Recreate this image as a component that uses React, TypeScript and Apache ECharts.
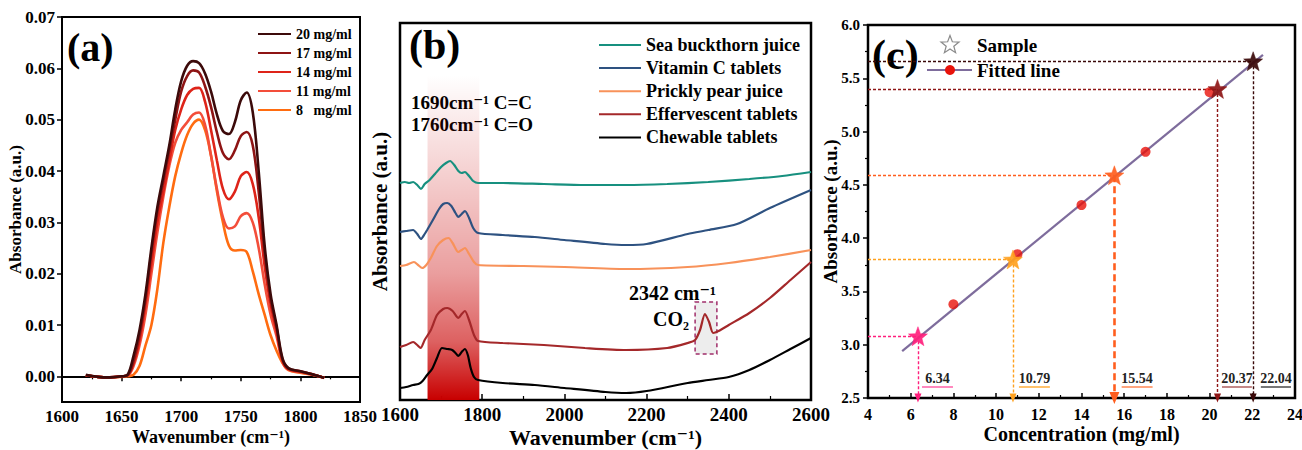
import React, { useEffect, useRef } from "react";
import * as echarts from "echarts";

const FONT = "'Liberation Serif', 'Times New Roman', 'DejaVu Serif', serif";

// ---------- Panel (a): spectra at several concentrations ----------
const aWavenumbers = [1620, 1630, 1640, 1650, 1655, 1660, 1665, 1670, 1675, 1680, 1685, 1690, 1695, 1700, 1705, 1710, 1715, 1720, 1725, 1730, 1735, 1740, 1745, 1750, 1755, 1760, 1765, 1770, 1775, 1780, 1785, 1790, 1800, 1810, 1820];
const aAbs20 = [0.0003, -0.0001, -0.0002, 0.0, 0.0003, 0.004, 0.009, 0.016, 0.025, 0.033, 0.039, 0.045, 0.052, 0.0575, 0.0605, 0.0614, 0.061, 0.059, 0.0555, 0.051, 0.0478, 0.0472, 0.0495, 0.0538, 0.0553, 0.0515, 0.04, 0.0255, 0.016, 0.01, 0.0035, 0.0016, 0.001, 0.0004, -0.0003];
const aAbs17 = [0.0002, -0.0001, -0.0002, 0.0, 0.0002, 0.003, 0.008, 0.015, 0.024, 0.032, 0.038, 0.044, 0.05, 0.0555, 0.0585, 0.0596, 0.0592, 0.0565, 0.0525, 0.0475, 0.0435, 0.0423, 0.044, 0.0468, 0.0476, 0.045, 0.036, 0.024, 0.015, 0.0095, 0.0033, 0.0015, 0.001, 0.0004, -0.0003];
const aAbs14 = [0.0002, -0.0001, -0.0002, 0.0, 0.0002, 0.0025, 0.007, 0.014, 0.022, 0.03, 0.036, 0.042, 0.048, 0.052, 0.0548, 0.056, 0.0562, 0.0535, 0.048, 0.042, 0.0365, 0.0345, 0.036, 0.039, 0.0398, 0.0375, 0.031, 0.0215, 0.014, 0.0088, 0.003, 0.0014, 0.0009, 0.0004, -0.0003];
const aAbs11 = [0.0002, -0.0001, -0.0002, 0.0, 0.0001, 0.002, 0.006, 0.012, 0.02, 0.028, 0.035, 0.041, 0.0455, 0.048, 0.0495, 0.051, 0.0514, 0.049, 0.043, 0.0365, 0.031, 0.0288, 0.0292, 0.0312, 0.0318, 0.03, 0.025, 0.018, 0.012, 0.0078, 0.0028, 0.0013, 0.0008, 0.0003, -0.0003];
const aAbs8 = [0.0002, -0.0001, -0.0002, -0.0001, 0.0, 0.0003, 0.002, 0.006, 0.01, 0.017, 0.026, 0.033, 0.039, 0.0435, 0.047, 0.0492, 0.05, 0.048, 0.043, 0.036, 0.03, 0.0255, 0.0245, 0.0246, 0.0242, 0.0205, 0.016, 0.012, 0.008, 0.005, 0.0026, 0.0012, 0.0007, 0.0003, -0.0003];
const aNames = ["20 mg/ml", "17 mg/ml", "14 mg/ml", "11 mg/ml", "8\u00a0\u00a0\u00a0mg/ml"];
const aSeries = [aAbs20, aAbs17, aAbs14, aAbs11, aAbs8];
const aColors = ["#3C0A0A", "#8E1414", "#DE2419", "#F34E3A", "#FF6C10"];
const aYTicks = [0, 0.01, 0.02, 0.03, 0.04, 0.05, 0.06, 0.07];

// ---------- Panel (b): sample spectra (offset, arbitrary units) ----------
const bSeaX = [1600, 1612, 1622, 1632, 1642, 1651, 1660, 1672, 1685, 1700, 1712, 1722, 1732, 1742, 1750, 1758, 1768, 1778, 1790, 1850, 1950, 2050, 2150, 2250, 2350, 2450, 2530, 2600];
const bSeaY = [217, 218, 217, 218, 215, 211, 216, 220, 226, 233, 237, 239, 235, 229, 227, 228, 224, 219, 217, 217, 216, 215, 215, 216, 218, 221, 224, 228];
const bVitX = [1600, 1615, 1632, 1642, 1651, 1660, 1666, 1680, 1695, 1705, 1715, 1725, 1735, 1742, 1750, 1758, 1768, 1778, 1790, 1850, 1928, 2000, 2100, 2150, 2200, 2300, 2350, 2420, 2500, 2600];
const bVitY = [168, 169, 170, 166, 161, 166, 170, 180, 191, 196, 197, 194, 187, 183, 186, 189, 182, 172, 167, 165, 163, 160, 156, 155, 156, 166, 170, 176, 192, 210];
const bPearX = [1600, 1615, 1634, 1644, 1654, 1664, 1675, 1690, 1705, 1718, 1728, 1742, 1750, 1758, 1768, 1780, 1790, 1900, 2000, 2150, 2300, 2400, 2500, 2600];
const bPearY = [134, 135, 138, 135, 132, 135, 142, 154, 160, 162, 157, 148, 150, 152, 146, 138, 135, 134, 133, 131, 133, 137, 143, 150];
const bEffX = [1600, 1615, 1632, 1642, 1650, 1660, 1675, 1690, 1705, 1715, 1728, 1742, 1750, 1758, 1768, 1780, 1790, 1850, 1950, 2050, 2150, 2250, 2300, 2318, 2330, 2342, 2352, 2362, 2375, 2400, 2450, 2500, 2550, 2600];
const bEffY = [53, 55, 58, 55, 52, 60, 70, 85, 91, 92, 89, 82, 86, 89, 80, 65, 59, 57, 55, 52, 50, 52, 57, 60, 70, 86, 78, 67, 69, 75, 87, 102, 120, 138];
const bChewX = [1600, 1615, 1632, 1645, 1655, 1666, 1678, 1690, 1702, 1715, 1727, 1735, 1742, 1750, 1758, 1765, 1772, 1780, 1790, 1850, 1928, 2000, 2100, 2150, 2200, 2300, 2350, 2400, 2450, 2500, 2550, 2600];
const bChewY = [12, 13, 15, 16, 19, 25, 31, 42, 52, 51, 50, 47, 44, 48, 51, 45, 32, 23, 20, 17, 15, 12, 8, 7, 9, 17, 20, 23, 30, 40, 51, 62];
const bNames = ["Sea buckthorn juice", "Vitamin C tablets", "Prickly pear juice", "Effervescent tablets", "Chewable tablets"];
const bXs = [bSeaX, bVitX, bPearX, bEffX, bChewX];
const bYs = [bSeaY, bVitY, bPearY, bEffY, bChewY];
const bColors = ["#17907F", "#2E5281", "#F8925A", "#A4282A", "#000000"];
const bBand = [1667, 1793, 325, 0]; // x1, x2, yTop, yBottom
const bCO2Box = [2318, 2371, 98, 46];

// ---------- Panel (c): calibration ----------
const cStdConc = [8, 11, 14, 17, 20];
const cStdAbs = [3.38, 3.85, 4.31, 4.81, 5.37];
const cFitConc = [5.6, 22.5];
const cFitAbs = [2.94, 5.72];
const cSampleConc = [6.34, 10.79, 15.54, 20.37, 22.04];
const cSampleAbs = [3.08, 3.8, 4.59, 5.4, 5.66];
const cSampleLabels = ["6.34", "10.79", "15.54", "20.37", "22.04"];
const cLabelStart = [6.53, 11.07, 15.88, 20.58, 22.4];
const cLabelEnd = [7.98, 12.52, 17.33, 21.98, 23.81];
const cLabelY = 2.603;
const cSampleColors = ["#FF1F7C", "#FFA11E", "#FF5E1E", "#8E1616", "#3A0808"];
const cUnderlineColors = ["#FF6AAE", "#FFB347", "#FF8E5E", "#B46A6A", "#555555"];

const STAR = "path://M12,1 L14.9,8.6 L23,8.9 L16.6,13.9 L18.9,21.8 L12,17.2 L5.1,21.8 L7.4,13.9 L1,8.9 L9.1,8.6 Z";

function starPoints(cx: number, cy: number, ro: number, ri: number) {
  const pts: number[][] = [];
  for (let i = 0; i < 10; i++) {
    const r = i % 2 === 0 ? ro : ri;
    const a = -Math.PI / 2 + (i * Math.PI) / 5;
    pts.push([cx + r * Math.cos(a), cy + r * Math.sin(a)]);
  }
  return pts;
}

const bold = { fontFamily: FONT, fontWeight: "bold" as const, color: "#000" };
const plain = (v: number) => String(v);

export default function App() {
  const ref = useRef<HTMLDivElement>(null);
  useEffect(() => {
    if (!ref.current) return;
    const chart = echarts.init(ref.current, undefined, { renderer: "svg" });

    const zip = (xs: number[], ys: number[]) => xs.map((x, i) => [x, ys[i]]);

    const series: any[] = [];
    aSeries.forEach((ys, i) => {
      series.push({
        type: "line", name: aNames[i], xAxisIndex: 0, yAxisIndex: 0,
        data: zip(aWavenumbers, ys), smooth: 0.35, symbol: "none",
        lineStyle: { color: aColors[i], width: 2.6 }, itemStyle: { color: aColors[i] }, z: 3 + (5 - i),
      });
    });

    // band + CO2 box
    series.push({
      type: "line", xAxisIndex: 1, yAxisIndex: 1, data: [], z: 1, silent: true,
      markArea: {
        silent: true,
        data: [
          [
            {
              coord: [bBand[0], bBand[2]],
              itemStyle: {
                color: new echarts.graphic.LinearGradient(0, 0, 0, 1, [
                  { offset: 0, color: "rgba(200,0,0,0.0)" },
                  { offset: 0.33, color: "rgba(200,0,0,0.2)" },
                  { offset: 0.61, color: "rgba(200,0,0,0.38)" },
                  { offset: 0.82, color: "rgba(200,0,0,0.62)" },
                  { offset: 1, color: "rgba(200,0,0,1)" },
                ]),
              },
            },
            { coord: [bBand[1], bBand[3]] },
          ],
          [
            {
              coord: [bCO2Box[0], bCO2Box[2]],
              itemStyle: { color: "rgba(175,175,175,0.22)", borderColor: "#A02E6A", borderWidth: 1.5, borderType: [4, 3] },
            },
            { coord: [bCO2Box[1], bCO2Box[3]] },
          ],
        ],
      },
    });
    bNames.forEach((n, i) => {
      series.push({
        type: "line", name: n, xAxisIndex: 1, yAxisIndex: 1,
        data: zip(bXs[i], bYs[i]), smooth: 0.25, symbol: "none",
        lineStyle: { color: bColors[i], width: 2.2 }, itemStyle: { color: bColors[i] }, z: 3,
      });
    });

    // Panel c
    series.push({
      type: "line", xAxisIndex: 2, yAxisIndex: 2, data: zip(cFitConc, cFitAbs), symbol: "none",
      lineStyle: { color: "#7E6C9C", width: 2.2 }, z: 3,
    });
    series.push({
      type: "scatter", xAxisIndex: 2, yAxisIndex: 2, data: zip(cStdConc, cStdAbs), symbol: "circle", symbolSize: 10,
      itemStyle: { color: "#E8120A" }, z: 4,
    });

    const guides: any[] = [];
    cSampleConc.forEach((x, i) => {
      const y = cSampleAbs[i];
      const c = cSampleColors[i];
      const thick = i === 2;
      guides.push([
        { coord: [4, y], symbol: "none", lineStyle: { color: c, width: 1.4, type: [3, 2], opacity: 1 } },
        { coord: [x, y], symbol: "none" },
      ]);
      guides.push([
        { coord: [x, y], symbol: "none", lineStyle: { color: c, width: thick ? 2.6 : 1.4, type: thick ? [7, 4] : [3, 2], opacity: 1 } },
        { coord: [x, 2.5], symbol: "triangle", symbolSize: thick ? [10, 12] : [7, 9], symbolRotate: 180 },
      ]);
    });
    series.push({
      type: "scatter", xAxisIndex: 2, yAxisIndex: 2,
      data: cSampleConc.map((x, i) => ({ value: [x, cSampleAbs[i]], itemStyle: { color: cSampleColors[i], borderColor: cSampleColors[i], borderWidth: 0.5, opacity: 0.92 } })),
      symbol: STAR, symbolSize: 19, z: 6,
      markLine: { silent: true, symbol: ["none", "none"], label: { show: false }, data: guides, z: 2 },
    });

    const underlines = cSampleLabels.map((t, i) => [
      {
        coord: [cLabelStart[i], cLabelY],
        lineStyle: { color: cUnderlineColors[i], width: 1.6, type: "solid", opacity: 1 },
        label: { show: true, position: "insideMiddleTop", distance: 2, formatter: t, fontSize: 14, ...bold, color: "#222" },
      },
      { coord: [cLabelEnd[i], cLabelY] },
    ]);
    series.push({
      type: "line", xAxisIndex: 2, yAxisIndex: 2, data: [], z: 5,
      markLine: { silent: true, symbol: ["none", "none"], data: underlines },
    });

    const axisLineStyle = { lineStyle: { color: "#000", width: 2 } };

    const starPts = starPoints(950, 45, 9.5, 4);
    const txt = (text: string, x: number, y: number, fontSize: number, align = "left") => ({
      type: "text", x, y,
      style: { text, fontSize, fontWeight: "bold", fontFamily: FONT, fill: "#000", align, verticalAlign: "middle" },
    });

    chart.setOption({
      animation: false,
      backgroundColor: "#fff",
      grid: [
        { left: 62, top: 17, width: 298, height: 385, show: true, borderColor: "#000", borderWidth: 2, backgroundColor: "transparent", outerBoundsMode: "none", containLabel: false },
        { left: 400, top: 23, width: 411, height: 377, show: true, borderColor: "#000", borderWidth: 2.5, backgroundColor: "transparent", outerBoundsMode: "none", containLabel: false },
        { left: 868, top: 25, width: 427, height: 373, show: true, borderColor: "#000", borderWidth: 2.5, backgroundColor: "transparent", outerBoundsMode: "none", containLabel: false },
      ],
      xAxis: [
        {
          gridIndex: 0, type: "value", min: 1600, max: 1850, interval: 50,
          axisLine: axisLineStyle, splitLine: { show: false },
          axisTick: { inside: false, length: 5, lineStyle: { width: 1.5, color: "#000" } },
          minorTick: { show: true, splitNumber: 2, length: 3, lineStyle: { color: "#000", width: 1.2 } },
          axisLabel: { fontSize: 17, margin: 6, ...bold, showMaxLabel: true, showMinLabel: true, formatter: plain },
          name: "Wavenumber (cm\u207B\u00B9)", nameLocation: "middle", nameGap: 26, nameMoveOverlap: false,
          nameTextStyle: { fontSize: 18, ...bold },
        },
        {
          gridIndex: 1, type: "value", min: 1600, max: 2600, interval: 200,
          axisLine: axisLineStyle, splitLine: { show: false },
          axisTick: { inside: true, length: 6, lineStyle: { width: 1.5, color: "#000" } },
          minorTick: { show: true, splitNumber: 2, length: 4, lineStyle: { color: "#000", width: 1.2 } },
          axisLabel: { fontSize: 19, margin: 5, ...bold, showMaxLabel: true, showMinLabel: true, formatter: plain },
          name: "Wavenumber (cm\u207B\u00B9)", nameLocation: "middle", nameGap: 26, nameMoveOverlap: false,
          nameTextStyle: { fontSize: 22, ...bold },
        },
        {
          gridIndex: 2, type: "value", min: 4, max: 24, interval: 2,
          axisLine: axisLineStyle, splitLine: { show: false },
          axisTick: { inside: true, length: 5, lineStyle: { width: 1.5, color: "#000" } },
          minorTick: { show: true, splitNumber: 2, length: 3, lineStyle: { color: "#000", width: 1.2 } },
          axisLabel: { fontSize: 16, margin: 8, ...bold, showMaxLabel: true, showMinLabel: true, formatter: plain },
          name: "Concentration (mg/ml)", nameLocation: "middle", nameGap: 26, nameMoveOverlap: false,
          nameTextStyle: { fontSize: 20, ...bold },
        },
      ],
      yAxis: [
        {
          gridIndex: 0, type: "value", min: -0.005, max: 0.07,
          axisLine: axisLineStyle, splitLine: { show: false },
          axisTick: { inside: false, length: 5, customValues: aYTicks, lineStyle: { width: 1.5, color: "#000" } },
          axisLabel: { fontSize: 17, margin: 7, ...bold, customValues: aYTicks, formatter: (v: number) => v.toFixed(2) },
          name: "Absorbance (a.u.)", nameLocation: "middle", nameGap: 38, nameMoveOverlap: false,
          nameTextStyle: { fontSize: 17, ...bold },
        },
        {
          gridIndex: 1, type: "value", min: 0, max: 377,
          axisLine: axisLineStyle, splitLine: { show: false },
          axisTick: { show: false }, axisLabel: { show: false },
          name: "Absorbance (a.u.)", nameLocation: "middle", nameGap: 10, nameMoveOverlap: false,
          nameTextStyle: { fontSize: 21, ...bold },
        },
        {
          gridIndex: 2, type: "value", min: 2.5, max: 6.0, interval: 0.5,
          axisLine: axisLineStyle, splitLine: { show: false },
          axisTick: { inside: false, length: 5, lineStyle: { width: 1.5, color: "#000" } },
          minorTick: { show: true, splitNumber: 2, length: 3, lineStyle: { color: "#000", width: 1.2 } },
          axisLabel: { fontSize: 15, margin: 8, ...bold, formatter: (v: number) => v.toFixed(1) },
          name: "Absorbance (a.u.)", nameLocation: "middle", nameGap: 28, nameMoveOverlap: false,
          nameTextStyle: { fontSize: 19, ...bold },
        },
      ],
      legend: [
        {
          data: aNames, left: 252, top: 22, orient: "vertical", itemWidth: 33, itemHeight: 14, itemGap: 5,
          selectedMode: false, textStyle: { fontSize: 14, ...bold }, itemStyle: { opacity: 0 },
        },
        {
          data: bNames, left: 593, top: 31, orient: "vertical", itemWidth: 42, itemHeight: 16, itemGap: 5.1,
          selectedMode: false, textStyle: { fontSize: 18, ...bold }, itemStyle: { opacity: 0 },
        },
      ],
      graphic: [
        txt("(a)", 67, 47, 40),
        txt("(b)", 409, 45, 42),
        txt("(c)", 872, 55, 42),
        txt("1690cm\u207B\u00B9 C=C", 411, 102, 19),
        txt("1760cm\u207B\u00B9 C=O", 411, 124, 19),
        txt("2342 cm\u207B\u00B9", 716, 293, 20, "right"),
        txt("CO\u2082", 689, 319, 20, "right"),
        { type: "polygon", shape: { points: starPts }, style: { fill: "#fff", stroke: "#8a8a8a", lineWidth: 1.2 } },
        txt("Sample", 977, 45, 19),
        { type: "line", shape: { x1: 927, y1: 70, x2: 972, y2: 70 }, style: { stroke: "#7E6C9C", lineWidth: 2.2 } },
        { type: "circle", shape: { cx: 950, cy: 70, r: 5 }, style: { fill: "#E8120A" } },
        txt("Fitted line", 977, 70, 19),
      ],
      series,
    });
    return () => chart.dispose();
  }, []);
  return <div ref={ref} style={{ position: "fixed", left: 0, top: 0, width: 1302, height: 450, background: "#fff" }} />;
}
